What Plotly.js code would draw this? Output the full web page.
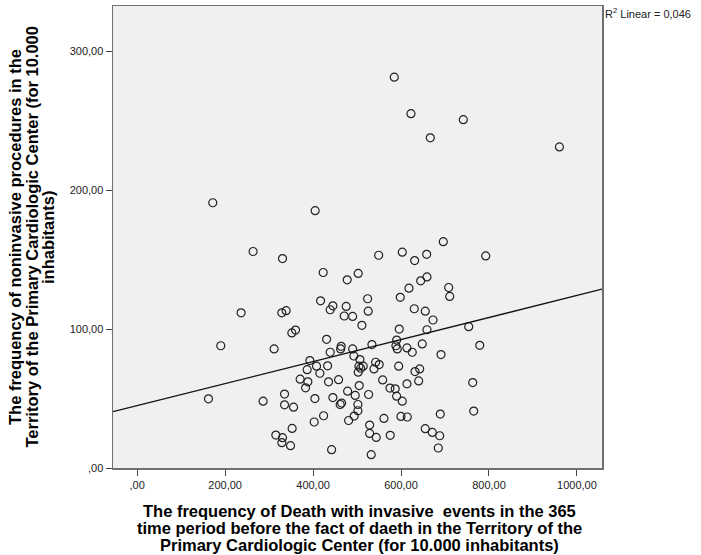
<!DOCTYPE html>
<html>
<head>
<meta charset="utf-8">
<script src="https://cdn.plot.ly/plotly-3.0.1.min.js"></script>
<style>html,body{margin:0;padding:0;background:#fff;}#chart{width:701px;height:555px;}</style>
</head>
<body>
<div id="chart"></div>
<script>
// Death frequency with invasive events (x) per 10.000 inhabitants
var deathFreq = [
  171.9,404.7,584.6,622.6,741.6,666.5,960.2,
  263.6,330.5,549.1,602.8,423.0,502.6,477.6,417.0,445.0,438.9,475.3,524.0,525.4,470.8,489.9,598.2,
  236.3,328.9,338.7,351.7,360.1,511.0,595.9,430.7,590.0,190.1,311.4,463.9,462.6,489.9,533.8,588.4,
  591.4,613.5,438.9,492.8,506.5,392.7,386.5,407.9,415.4,433.0,504.2,514.0,502.6,508.1,542.2,550.4,
  538.4,594.6,370.6,388.1,382.9,435.2,458.0,504.9,558.2,613.5,574.8,586.8,590.0,602.8,162.1,286.4,
  335.1,335.1,355.6,404.1,445.0,478.5,495.8,526.3,461.6,464.8,501.9,501.9,493.5,480.8,423.9,402.5,
  561.1,599.8,614.2,352.4,315.3,330.5,329.0,348.7,528.6,528.6,543.6,575.5,442.1,532.2,
  696.1,631.0,658.3,792.6,644.7,659.0,618.0,708.4,710.7,630.1,655.1,672.7,659.0,753.9,648.3,625.5,
  779.0,690.9,631.7,642.4,640.1,763.0,689.3,765.3,655.1,671.1,687.9,684.7
];
// Noninvasive procedures frequency (y) per 10.000 inhabitants
var noninvFreq = [
  190.9,185.2,281.3,255.0,250.7,237.6,231.1,
  155.8,150.7,153.1,155.3,140.7,140.0,135.4,120.3,116.7,113.9,116.3,121.8,112.9,109.4,109.1,122.8,
  111.7,111.7,113.2,97.2,99.3,102.7,100.0,92.6,92.1,88.0,85.7,87.6,85.7,85.7,88.8,88.0,
  85.7,86.4,83.3,80.6,78.0,77.3,70.8,73.3,68.2,73.5,73.3,73.3,69.0,71.8,76.1,74.4,
  71.3,73.3,63.9,62.0,57.7,62.0,63.6,59.3,63.4,60.6,57.5,57.0,51.7,48.1,49.8,48.1,
  53.2,45.5,43.8,50.0,50.7,55.3,52.2,52.9,45.7,46.7,45.7,41.2,37.4,34.2,37.6,33.1,
  35.7,37.1,36.7,28.5,23.7,21.8,18.2,16.1,30.9,24.9,22.0,23.5,13.2,9.6,
  162.9,149.3,153.8,152.6,134.7,137.5,129.4,129.9,123.5,114.6,112.9,106.5,99.5,101.7,89.3,83.3,
  88.3,81.6,69.4,71.3,62.7,61.5,38.8,41.0,28.3,25.6,23.2,14.4
];
// Linear fit line (R2 = 0,046), endpoints at the axis range edges
var fitX = [-55, 1057];
var fitY = [40.5, 128.7];
var r2Label = "R<sup>2</sup> Linear = 0,046";

var xTickVals = [0, 200, 400, 600, 800, 1000];
var xTickText = [",00", "200,00", "400,00", "600,00", "800,00", "1000,00"];
var yTickVals = [0, 100, 200, 300];
var yTickText = [",00", "100,00", "200,00", "300,00"];

// axis title lines (SPSS draws them with tight line spacing)
var xTitleLines = [
  "The frequency of Death with invasive \u00a0events in the 365",
  "time period before the fact of daeth in the Territory of the",
  "Primary Cardiologic Center (for 10.000 inhabitants)"
];
var yTitleLines = [
  "The frequency of noninvasive procedures in the",
  "Territory of the Primary Cardiologic Center (for 10.000",
  "inhabitants)"
];

var FONT = "Liberation Sans, Arial, Helvetica, sans-serif";
var W = 701, H = 555, ML = 113, MR = 99, MT = 6, MB = 87;
var PW = W - ML - MR, PH = H - MT - MB;
function px2x(px) { return (px - ML) / PW; }
function py2y(py) { return (H - MB - py) / PH; }

var traces = [
  {
    type: "scatter", mode: "markers",
    x: deathFreq, y: noninvFreq,
    marker: {symbol: "circle-open", size: 8, color: "#222222", line: {width: 1.2}},
    hoverinfo: "skip", showlegend: false
  },
  {
    type: "scatter", mode: "lines",
    x: fitX, y: fitY,
    line: {color: "#111111", width: 1.3},
    hoverinfo: "skip", showlegend: false
  }
];

var titleFont = {family: FONT, size: 16.5, color: "#000000", weight: "bold"};
var annotations = [
  {
    xref: "paper", yref: "paper", x: 1.003, y: 0.985,
    xanchor: "left", yanchor: "middle", showarrow: false,
    text: r2Label, font: {family: FONT, size: 11, color: "#222222"}
  }
];
var xLineY = [511, 528, 545];
xTitleLines.forEach(function (t, i) {
  annotations.push({
    xref: "paper", yref: "paper", x: px2x(359), y: py2y(xLineY[i]),
    xanchor: "center", yanchor: "middle", showarrow: false,
    text: t, font: titleFont
  });
});
var yLineX = [15, 31.5, 48];
yTitleLines.forEach(function (t, i) {
  annotations.push({
    xref: "paper", yref: "paper", x: px2x(yLineX[i]), y: py2y(237),
    xanchor: "center", yanchor: "middle", textangle: -90, showarrow: false,
    text: t, font: titleFont
  });
});

var layout = {
  width: W, height: H,
  margin: {l: ML, r: MR, t: MT, b: MB, pad: 0},
  paper_bgcolor: "#ffffff",
  plot_bgcolor: "#f0f0f0",
  font: {family: FONT, size: 11, color: "#222222"},
  showlegend: false,
  xaxis: {
    range: [-55, 1057],
    tickvals: xTickVals, ticktext: xTickText,
    ticks: "outside", ticklen: 6, tickwidth: 1, tickcolor: "#444444",
    showline: true, mirror: true, linecolor: "#707070", linewidth: 1.5,
    showgrid: false, zeroline: false,
    tickfont: {family: FONT, size: 11, color: "#222222"}
  },
  yaxis: {
    range: [0, 332.5],
    tickvals: yTickVals, ticktext: yTickText,
    ticks: "outside", ticklen: 6, tickwidth: 1, tickcolor: "#444444",
    showline: true, mirror: true, linecolor: "#707070", linewidth: 1.5,
    showgrid: false, zeroline: false,
    tickfont: {family: FONT, size: 11, color: "#222222"}
  },
  annotations: annotations
};

Plotly.newPlot("chart", traces, layout, {staticPlot: true, displayModeBar: false});
</script>
</body>
</html>
